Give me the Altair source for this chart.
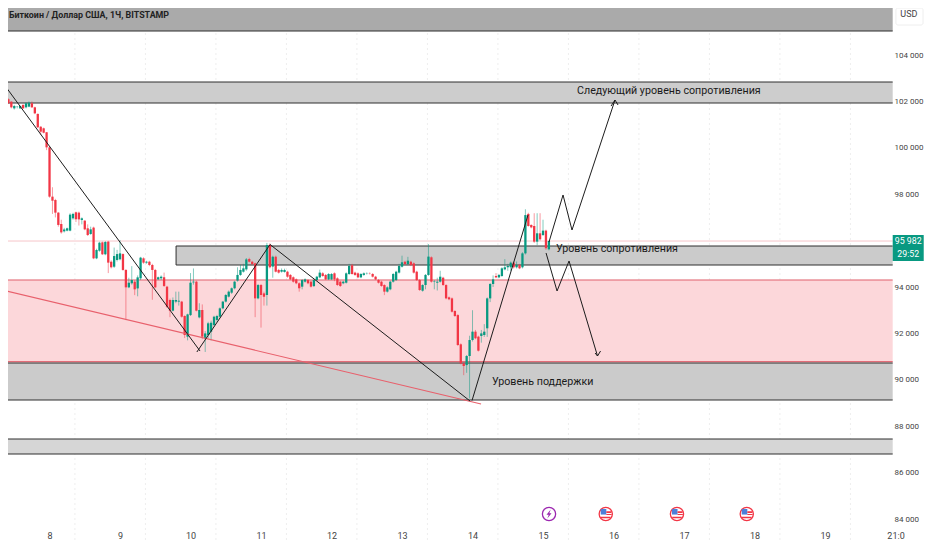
import altair as alt
import pandas as pd

opens = [
101703,101990,102320,102090,101990,101700,101760,101700,101850,101745,
101775,101920,101745,101460,100910,100840,100670,100020,97895,97750,
97205,96715,96400,96430,96430,96960,97220,97205,96890,96860,
96530,96285,96560,95235,95565,95925,95410,95955,95090,94875,
95165,95195,95420,94735,93985,94160,94230,93940,94375,95235,
95050,95090,94950,94735,94330,94375,94420,94015,93440,92980,
93370,93370,93370,92750,91860,92790,94200,94230,92690,93010,
91790,91930,92075,92360,92580,92720,93080,93370,93585,93755,
93945,94275,94520,94660,94760,95205,95090,95020,93510,94085,
93725,93655,95810,94880,95305,94735,94660,94650,94660,94520,
94420,94330,94160,
94014,94230,94300,94230,94040,94300,94415,94590,94520,94330,
94330,94590,94375,94230,94160,94185,94560,94935,94620,94590,
94415,94520,94580,94590,94560,94445,94300,94230,94085,93800,
93900,94230,94300,94620,94875,95090,94990,95090,95020,94660,
94300,93840,94085,94520,95280,94220,94185,94230,94400,94085,
93555,93510,92965,92790,91530,90710,90635,91025,91715,92075,
91860,91890,91930,92220,93510,94130,94475,94415,94475,94760,
94850,94850,95050,94850,94950,94850,95450,97150,96675,96630,
95955,96315,96240,96430,95625]
closes = [
101990,102280,102090,101920,101745,101800,101770,101800,101700,101920,
101945,101745,101485,100885,100695,100650,100020,97895,97720,97205,
96675,96355,96480,96530,97120,97150,96920,96915,96960,96485,
96240,96485,95235,95595,95910,95410,95940,95050,94850,95335,
95420,95450,94735,93985,94185,94300,93900,94415,95265,95050,
95090,94950,94735,93985,94420,94445,94045,93150,92980,93440,
93440,93410,92720,91930,92820,94185,94230,92980,93010,91860,
92000,92435,92460,92720,92750,93080,93370,93655,93800,93945,
94230,94520,94735,94805,95190,95090,94990,93510,94085,93655,
93580,95810,94850,95305,94660,94620,94735,94735,94445,94330,
94230,94160,93945,
94300,94330,94160,94015,94300,94445,94620,94475,94330,94560,
94560,94330,94085,94045,94230,94590,94905,94560,94520,94415,
94560,94590,94590,94580,94445,94330,94185,94045,93800,93985,
94230,94560,94660,94905,95065,94990,95135,94950,94620,94300,
93870,94085,94520,95310,94230,94240,94230,94445,94085,93510,
93470,92935,92750,91500,90710,90595,91025,91715,92075,91790,
91255,92000,92075,93510,94130,94330,94415,94520,94805,94850,
94905,95050,94850,94950,94805,95450,97100,96630,96570,95955,
96315,96055,96430,95670,95982]
highs = [
102170,102400,102780,102130,102000,101850,101800,101830,101870,101960,
102000,102000,101770,101480,100930,100870,100680,100050,98300,97800,
97230,96900,96550,96560,97180,97200,97250,97250,97000,96880,
96700,96600,96600,95650,95950,95960,95980,95990,95150,95700,
95600,96020,95450,94770,94400,94900,94300,94500,95300,95280,
95130,95130,95000,94780,94450,94500,94620,94050,93500,93550,
93800,93800,93400,92780,92850,94600,94800,94270,93300,93250,
92100,92500,92550,92760,92800,93120,93400,93700,93850,93980,
94270,94850,94950,95000,95250,95260,95130,95050,94130,94130,
93800,95900,95880,95350,95350,94780,94800,94790,94700,94560,
94460,94370,94200,
94340,94370,94340,94270,94340,94480,94750,94640,94560,94600,
94600,94630,94420,94270,94270,94630,95000,95000,94660,94630,
94600,94630,94630,94630,94600,94480,94340,94270,94120,94030,
94270,94600,94700,95000,95350,95130,95300,95130,95060,94700,
94340,94120,94560,95850,95320,94300,94400,94700,94440,94120,
93590,93550,93000,92830,91570,90750,91070,91900,93000,92150,
91900,92150,92400,93550,94170,94500,94600,94560,94850,95200,
95000,95100,95100,95100,95000,95500,97350,97200,96700,97180,
97180,97180,96900,96470,96000]
lows = [
101630,101950,102050,101900,101700,101650,101700,101680,101680,101700,
101750,101720,101450,100850,100550,100620,99900,97850,97150,97000,
96600,96300,96350,96400,96400,96900,96800,96650,96700,96450,
96200,96250,95200,95200,95520,95380,95370,94600,94800,94820,
95100,95150,94700,92575,93950,94100,93650,93600,94300,95000,
95000,94900,93450,93950,94300,94300,94000,93100,92700,92950,
93300,93200,92680,91800,91700,92750,94100,92950,92650,91750,
91200,91800,91700,92300,92500,92680,93040,93330,93550,93700,
93900,94230,94480,94620,94700,95060,94950,92700,93470,92250,
93200,93200,94800,94400,94630,94580,94620,94620,94400,94300,
94190,94120,93800,
93900,94190,94120,93980,94000,94260,94380,94440,94300,94300,
94300,94250,94050,94000,94120,94150,94520,94530,94480,94380,
94380,94480,94540,94540,94410,94300,94150,94010,93650,93760,
93860,94190,94260,94580,94840,94950,94950,94900,94580,94260,
93830,93800,93900,94480,94190,93900,93850,94190,94050,93470,
93430,92900,92710,91460,90670,90200,90300,89200,91650,91750,
91220,91600,91850,91850,93350,94000,94380,94380,94440,94720,
94700,94700,94800,94800,94770,94800,95400,96600,96530,95900,
95800,96000,96200,95600,95580]
first_day = 8
first_hour = -17

x_domain = [7.411, 20.404]
y_domain = [83009, 106026]
right_edge = 19.96
left_edge = 7.2

# gray / pink zones
band_low = [105034, 101931, 94948, 89129, 86802]
band_high = [106300, 102836, 95767, 90724, 87448]
band_start = [left_edge, left_edge, 9.795, left_edge, left_edge]
band_fill = ["#aaaaaa", "#cdcdcd", "#cbcbcb", "#cbcbcb", "#d6d6d6"]
pink_low = 90724
pink_high = 94302
last_price = 95982

grid_days = [7.36, 8.36, 9.36, 10.36, 11.36, 12.36, 13.36, 14.36, 15.36, 16.36, 17.36, 18.36, 19.36]
x_ticks = [8, 9, 10, 11, 12, 13, 14, 15, 16, 17, 18, 19, 20]
y_ticks = [84000, 86000, 88000, 90000, 92000, 94000, 98000, 100000, 102000, 104000]

# drawings: name, day, price
line_names = ["fall1"] * 2 + ["rise1"] * 2 + ["fall2"] * 2 + ["rise2"] * 2 + ["up"] * 4 + ["uphead"] * 3 + ["down"] * 4 + ["downhead"] * 3
line_days = [7.34, 10.135, 10.09, 11.128, 11.128, 13.965, 13.993, 14.787,
             15.085, 15.284, 15.411, 16.021, 15.965, 16.021, 16.064,
             15.043, 15.199, 15.369, 15.773, 15.738, 15.773, 15.816]
line_prices = [102793, 91240, 91198, 95832, 95832, 89086, 89108, 97103,
               95940, 97966, 96457, 102060, 101800, 102060, 101845,
               95466, 93828, 95121, 91026, 91155, 91026, 91241]
trend_days = [7.2, 14.121]
trend_prices = [93960, 88957]

note_text = ["Следующий уровень сопротивления", "Уровень сопротивления", "Уровень поддержки"]
note_days = [15.482, 15.184, 14.277]
note_prices = [102448, 95638, 89905]
event_y = 84216
flag_days = [15.89, 16.9, 17.89]
bolt_day = 15.085

candles = pd.DataFrame({"o": opens, "c": closes, "h": highs, "l": lows})
candles["day"] = [first_day + (first_hour + i) / 24 for i in range(len(candles))]
candles["dir"] = ["up" if c >= o else "down" for o, c in zip(opens, closes)]

LABEL_FONT = "Roboto"
x_scale = alt.Scale(domain=x_domain, nice=False, zero=False)
y_scale = alt.Scale(domain=y_domain, nice=False, zero=False)
x_axis = alt.Axis(values=x_ticks, orient="bottom", offset=-12, grid=False, domain=False, ticks=False, title=None,
                  labelFont=LABEL_FONT, labelFontSize=9, labelColor="#444444", labelPadding=1,
                  labelFlush=False, labelOverlap=False,
                  labelExpr="datum.value == 20 ? '21:0' : format(datum.value, 'd')")
y_axis = alt.Axis(values=y_ticks, orient="right", offset=-31, grid=False, domain=False, ticks=False, title=None,
                  labelFont=LABEL_FONT, labelFontSize=8, labelColor="#444444", labelPadding=1,
                  labelOverlap=False, labelFlush=False,
                  labelExpr="replace(format(datum.value, ','), ',', ' ')")
NX = alt.X("day:Q", scale=x_scale, axis=x_axis)
NY = alt.Y("p:Q", scale=y_scale, axis=y_axis)
col = alt.Color("dir:N", scale=alt.Scale(domain=["up", "down"], range=["#089981", "#f23645"]), legend=None)

grid = alt.Chart(pd.DataFrame({"day": grid_days})).mark_rule(
    color="#eeeeee", strokeWidth=1, strokeDash=[2, 3]).encode(x=NX)

pink = alt.Chart(pd.DataFrame({"day": [left_edge], "day2": [right_edge], "p": [pink_low], "p2": [pink_high]})).mark_rect(
    color="#fcd7da", clip=True).encode(x=NX, x2="day2:Q", y=NY, y2="p2:Q")

bands = pd.DataFrame({"day": band_start, "day2": [right_edge] * 5, "p": band_low, "p2": band_high, "fill": band_fill})
band_rects = alt.Chart(bands).mark_rect(clip=True).encode(
    x=NX, x2="day2:Q", y=NY, y2="p2:Q", color=alt.Color("fill:N", scale=None))
band_edges = pd.concat([bands.assign(p=bands["p"]), bands.assign(p=bands["p2"])])
band_lines = alt.Chart(band_edges).mark_rule(color="#2f2f2f", strokeWidth=1, clip=True).encode(x=NX, x2="day2:Q", y=NY)
res_left = alt.Chart(pd.DataFrame({"day": [band_start[2]], "p": [band_low[2]], "p2": [band_high[2]]})).mark_rule(
    color="#2f2f2f", strokeWidth=1).encode(x=NX, y=NY, y2="p2:Q")

pink_edges = alt.Chart(pd.DataFrame({"day": [left_edge] * 2, "day2": [right_edge] * 2, "p": [pink_low + 60, pink_high]})).mark_rule(
    color="#e0606c", strokeWidth=1, clip=True).encode(x=NX, x2="day2:Q", y=NY)
price_line = alt.Chart(pd.DataFrame({"day": [left_edge], "day2": [right_edge], "p": [last_price]})).mark_rule(
    color="#f6c6ca", strokeWidth=1, clip=True).encode(x=NX, x2="day2:Q", y=NY)

wicks = alt.Chart(candles).mark_rule(strokeWidth=1, opacity=0.5, clip=True).encode(
    x=NX, y=alt.Y("h:Q", scale=y_scale, axis=y_axis), y2="l:Q", color=col)
bodies = alt.Chart(candles).mark_rule(strokeWidth=2.3, clip=True).encode(
    x=NX, y=alt.Y("o:Q", scale=y_scale, axis=y_axis), y2="c:Q", color=col)

lines_df = pd.DataFrame({"name": line_names, "day": line_days, "p": line_prices})
lines_df["order"] = range(len(lines_df))
draw = alt.Chart(lines_df).mark_line(color="#1c1c1c", strokeWidth=1, clip=True).encode(
    x=NX, y=NY, detail="name:N", order="order:Q")
trend = alt.Chart(pd.DataFrame({"day": trend_days, "p": trend_prices})).mark_line(
    color="#e8606c", strokeWidth=1.2, clip=True).encode(x=NX, y=NY)

notes = alt.Chart(pd.DataFrame({"t": note_text, "day": note_days, "p": note_prices})).mark_text(
    align="left", baseline="middle", font="Roboto", fontSize=10.7, color="#1a1a1a").encode(x=NX, y=NY, text="t:N")
header = alt.Chart(pd.DataFrame({"t": ["Биткоин / Доллар США, 1Ч, BITSTAMP"], "day": [7.426], "p": [105724]})).mark_text(
    align="left", baseline="middle", font="Roboto", fontSize=8.9, fontWeight="bold", color="#222222").encode(x=NX, y=NY, text="t:N")

usd_box = alt.Chart(pd.DataFrame({"day": [20.006], "day2": [20.39], "p": [105293], "p2": [106026]})).mark_rect(
    fill="#ffffff", stroke="#eeeeee", cornerRadius=2).encode(x=NX, x2="day2:Q", y=NY, y2="p2:Q")
usd = alt.Chart(pd.DataFrame({"t": ["USD"], "day": [20.19], "p": [105767]})).mark_text(
    font=LABEL_FONT, fontSize=9, color="#444444").encode(x=NX, y=NY, text="t:N")

tag = alt.Chart(pd.DataFrame({"day": [19.96], "day2": [20.40], "p": [95121], "p2": [96241]})).mark_rect(
    color="#089981").encode(x=NX, x2="day2:Q", y=NY, y2="p2:Q")
tag_text = alt.Chart(pd.DataFrame({"t": ["95 982", "29:52"], "day": [20.18, 20.18], "p": [95983, 95422]})).mark_text(
    font=LABEL_FONT, fontSize=8.8, color="#ffffff").encode(x=NX, y=NY, text="t:N")

flags_df = pd.DataFrame({"day": flag_days, "p": [event_y] * 3})
flag_ring = alt.Chart(flags_df).mark_point(filled=True, fill="#ffffff", stroke="#f23645", strokeWidth=1.3, opacity=1, size=175, shape="circle").encode(x=NX, y=NY)
flag_canton = alt.Chart(flags_df).mark_point(filled=True, fill="#4d7fd8", strokeWidth=0, opacity=1, size=784,
    shape="M-0.36,-0.36H0.04V0.04H-0.36Z").encode(x=NX, y=NY)
flag_red = alt.Chart(flags_df).mark_point(filled=True, fill="#f23645", strokeWidth=0, opacity=1, size=784,
    shape="M0.04,-0.2H0.4V-0.08H0.04ZM0.04,0H0.42V0.08H0.04ZM-0.34,0.2H0.34V0.3H-0.34Z").encode(x=NX, y=NY)
bolt_df = pd.DataFrame({"day": [bolt_day], "p": [event_y]})
bolt_ring = alt.Chart(bolt_df).mark_point(filled=True, fill="#ffffff", stroke="#9c27b0", strokeWidth=1.3, opacity=1, size=175, shape="circle").encode(x=NX, y=NY)
bolt = alt.Chart(bolt_df).mark_point(filled=True, fill="#9c27b0", strokeWidth=0, opacity=1, size=784,
    shape="M0.12,-0.32L-0.18,0.06H-0.02L-0.12,0.32L0.18,-0.06H0.02Z").encode(x=NX, y=NY)

chart = alt.layer(
    grid, pink, band_rects, price_line, pink_edges, band_lines, res_left, wicks, bodies, trend, draw,
    notes, header, usd_box, usd, tag, tag_text, bolt_ring, bolt, flag_ring, flag_canton, flag_red
).properties(
    width=916, height=534, padding=0, background="#ffffff",
    autosize=alt.AutoSizeParams(type="none")
).configure_view(stroke=None)

chart.save("out.html", embed_options={"renderer": "svg", "actions": False})
